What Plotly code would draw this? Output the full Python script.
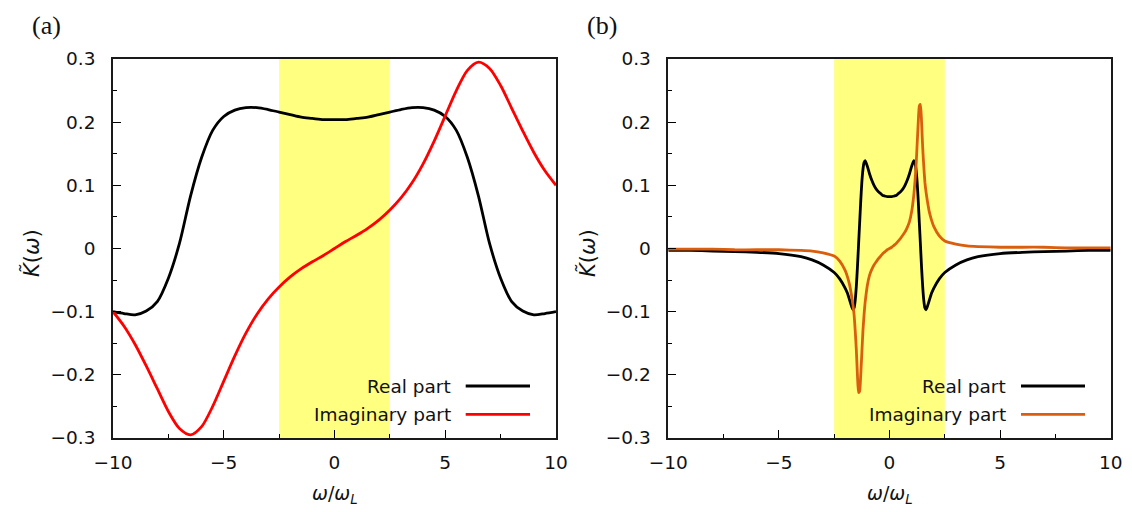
import plotly.graph_objects as go

# ---------------- data ----------------
# panel (a)
xa = [-10, -9.5, -9, -8.5, -8, -7.5, -7, -6.5, -6, -5.5, -5, -4.5, -4, -3.5, -3, -2.5, -2, -1.5, -1, -0.5,
      0, 0.5, 1, 1.5, 2, 2.5, 3, 3.5, 4, 4.5, 5, 5.5, 6, 6.5, 7, 7.5, 8, 8.5, 9, 9.5, 10]
real_a = [-0.100, -0.103, -0.105, -0.099, -0.084, -0.047, 0.008, 0.083, 0.144, 0.187, 0.209, 0.219, 0.223,
          0.223, 0.220, 0.216, 0.212, 0.208, 0.206, 0.204,
          0.204,
          0.204, 0.206, 0.208, 0.212, 0.216, 0.220, 0.223, 0.223, 0.219, 0.209, 0.187, 0.144, 0.083, 0.008,
          -0.047, -0.084, -0.099, -0.105, -0.103, -0.100]
imag_a = [-0.100, -0.123, -0.152, -0.186, -0.222, -0.258, -0.285, -0.295, -0.282, -0.250, -0.210, -0.170,
          -0.134, -0.104, -0.080, -0.061, -0.045, -0.032, -0.021, -0.011,
          0.000,
          0.011, 0.021, 0.032, 0.045, 0.061, 0.080, 0.104, 0.134, 0.170, 0.210, 0.250, 0.282, 0.295, 0.285,
          0.258, 0.222, 0.186, 0.152, 0.123, 0.100]

# panel (b)
xb = [-10, -9, -8, -7, -6, -5, -4, -3.5, -3, -2.5, -2.25, -2, -1.9, -1.8, -1.7, -1.65, -1.6, -1.55, -1.5,
      -1.45, -1.4, -1.35, -1.3, -1.25, -1.2, -1.15, -1.1, -1.0, -0.9, -0.8, -0.7, -0.6, -0.5, -0.4, -0.3,
      -0.2, -0.1, 0,
      0.1, 0.2, 0.3, 0.4, 0.5, 0.6, 0.7, 0.8, 0.9, 1.0, 1.1, 1.15, 1.2, 1.25, 1.3, 1.35, 1.4, 1.45, 1.5,
      1.55, 1.6, 1.65, 1.7, 1.8, 1.9, 2, 2.25, 2.5, 3, 3.5, 4, 5, 6, 7, 8, 9, 10]
real_b = [-0.003, -0.003, -0.004, -0.005, -0.006, -0.008, -0.013, -0.018, -0.026, -0.038, -0.048, -0.063,
          -0.071, -0.082, -0.093, -0.097, -0.094, -0.082, -0.060,
          -0.030, 0.005, 0.040, 0.075, 0.105, 0.125, 0.136, 0.139, 0.130, 0.118, 0.108, 0.100, 0.094, 0.090,
          0.087, 0.084, 0.083, 0.082, 0.082,
          0.082, 0.083, 0.084, 0.087, 0.090, 0.094, 0.100, 0.108, 0.118, 0.130, 0.139, 0.136, 0.125, 0.105,
          0.075, 0.040, 0.005, -0.030, -0.060,
          -0.082, -0.094, -0.097, -0.093, -0.082, -0.071, -0.063, -0.048, -0.038, -0.026, -0.018, -0.013,
          -0.008, -0.006, -0.005, -0.004, -0.003, -0.003]
imag_b = [-0.001, -0.001, -0.001, -0.002, -0.002, -0.002, -0.003, -0.004, -0.007, -0.012, -0.020, -0.035,
          -0.045, -0.058, -0.078, -0.090, -0.105, -0.130, -0.160,
          -0.200, -0.228, -0.226, -0.200, -0.165, -0.130, -0.105, -0.085, -0.058, -0.042, -0.033, -0.026,
          -0.021, -0.016, -0.012, -0.008, -0.005, -0.002, 0.000,
          0.002, 0.005, 0.008, 0.012, 0.016, 0.021, 0.026, 0.033, 0.042, 0.058, 0.085, 0.105, 0.130, 0.165,
          0.200, 0.226, 0.228, 0.200, 0.160,
          0.130, 0.105, 0.090, 0.078, 0.058, 0.045, 0.035, 0.020, 0.012, 0.007, 0.004, 0.003, 0.002, 0.002,
          0.002, 0.001, 0.001, 0.001]

band = [-2.5, 2.5]
x_ticks = [-10, -5, 0, 5, 10]
y_ticks = [-0.3, -0.2, -0.1, 0, 0.1, 0.2, 0.3]
y_tick_text = ["\u22120.3", "\u22120.2", "\u22120.1", "0", "0.1", "0.2", "0.3"]
x_tick_text = ["\u221210", "\u22125", "0", "5", "10"]
legend_names = ["Real part", "Imaginary part"]
panel_labels = ["(a)", "(b)"]

# ---------------- styling ----------------
W, H = 1132, 512
BLACK = "#000000"
RED = "#ff0000"
ORANGE = "#d95f0e"
YELLOW = "#ffff80"
FONT = "DejaVu Sans, sans-serif"
FS = 18.5
LW = 2.8

dom_a = [113 / W, 556 / W]
dom_b = [668.3 / W, 1110.7 / W]
dom_y = [1 - 438 / H, 1 - 59 / H]

fig = go.Figure()
fig.add_trace(go.Scatter(x=xa, y=real_a, mode="lines", line=dict(color=BLACK, width=LW, shape="spline", smoothing=0.8),
                         xaxis="x", yaxis="y", showlegend=False))
fig.add_trace(go.Scatter(x=xa, y=imag_a, mode="lines", line=dict(color=RED, width=LW, shape="spline", smoothing=0.8),
                         xaxis="x", yaxis="y", showlegend=False))
fig.add_trace(go.Scatter(x=xb, y=real_b, mode="lines", line=dict(color=BLACK, width=LW, shape="spline", smoothing=0.5),
                         xaxis="x2", yaxis="y2", showlegend=False))
fig.add_trace(go.Scatter(x=xb, y=imag_b, mode="lines", line=dict(color=ORANGE, width=LW, shape="spline", smoothing=0.5),
                         xaxis="x2", yaxis="y2", showlegend=False))

def xax(domain, anchor):
    return dict(domain=domain, anchor=anchor, range=[-10, 10], tickmode="array", tickvals=x_ticks,
                ticktext=x_tick_text, ticks="inside", ticklen=8, tickwidth=1.2, tickcolor=BLACK,
                minor=dict(ticks="inside", ticklen=4, tickwidth=1.2, dtick=2.5, tick0=0, tickcolor=BLACK),
                showline=True, mirror=True, linecolor="#1a1a1a", linewidth=1.6, showgrid=False, zeroline=False,
                tickfont=dict(family=FONT, size=FS, color="#111"), ticklabelstandoff=7, automargin=False)

def yax(domain, anchor):
    return dict(domain=domain, anchor=anchor, range=[-0.3, 0.3], tickmode="array", tickvals=y_ticks,
                ticktext=y_tick_text, ticks="inside", ticklen=8, tickwidth=1.2, tickcolor=BLACK,
                minor=dict(ticks="inside", ticklen=4, tickwidth=1.2, dtick=0.05, tick0=0, tickcolor=BLACK),
                showline=True, mirror=True, linecolor="#1a1a1a", linewidth=1.6, showgrid=False, zeroline=False,
                tickfont=dict(family=FONT, size=FS, color="#111"), ticklabelstandoff=12, automargin=False)

shapes = []
for xr in ["x", "x2"]:
    shapes.append(dict(type="rect", xref=xr, yref=("y" if xr == "x" else "y2") + " domain",
                       x0=band[0], x1=band[1], y0=0, y1=1, fillcolor=YELLOW, line=dict(width=0), layer="below"))

annotations = []
# legends (text right-aligned, line sample at right)
leg_cfg = [((452.5, 465.7, 530.0), [BLACK, RED]), ((1007.5, 1021.0, 1085.0), [BLACK, ORANGE])]
leg_y = [386, 414.3]
for (tx, l0, l1), cols in leg_cfg:
    for name, col, yy in zip(legend_names, cols, leg_y):
        annotations.append(dict(text=name, x=tx / W, y=1 - yy / H, xref="paper", yref="paper",
                                xanchor="right", yanchor="middle", showarrow=False,
                                font=dict(family=FONT, size=FS, color="#111")))
        shapes.append(dict(type="line", xref="paper", yref="paper", x0=l0 / W, x1=l1 / W,
                           y0=1 - yy / H, y1=1 - yy / H, line=dict(color=col, width=LW)))

# axis titles
for cx in [334.5, 889.5]:
    annotations.append(dict(text="<i>ω</i>/<i>ω</i><sub><i>L</i></sub>", x=cx / W, y=1 - 494 / H,
                            xref="paper", yref="paper", xanchor="center", yanchor="middle", showarrow=False,
                            font=dict(family="DejaVu Sans, sans-serif", size=19, color="#111")))
for cx in [31, 587]:
    annotations.append(dict(text="<i>K\u0303</i>(<i>ω</i>)", x=cx / W, y=1 - 253 / H, textangle=-90,
                            xref="paper", yref="paper", xanchor="center", yanchor="middle", showarrow=False,
                            font=dict(family="DejaVu Sans, sans-serif", size=21, color="#111")))
# panel labels
for lab, cx in zip(panel_labels, [46, 602]):
    annotations.append(dict(text=lab, x=cx / W, y=1 - 25 / H, xref="paper", yref="paper",
                            xanchor="center", yanchor="middle", showarrow=False,
                            font=dict(family="Liberation Serif, serif", size=26, color="#111")))

fig.update_layout(
    width=W, height=H, margin=dict(l=0, r=0, t=0, b=0),
    paper_bgcolor="white", plot_bgcolor="rgba(0,0,0,0)",
    xaxis=xax(dom_a, "y"), yaxis=yax(dom_y, "x"),
    xaxis2=xax(dom_b, "y2"), yaxis2=yax(dom_y, "x2"),
    shapes=shapes, annotations=annotations, showlegend=False,
)

fig.write_html("out.html")
